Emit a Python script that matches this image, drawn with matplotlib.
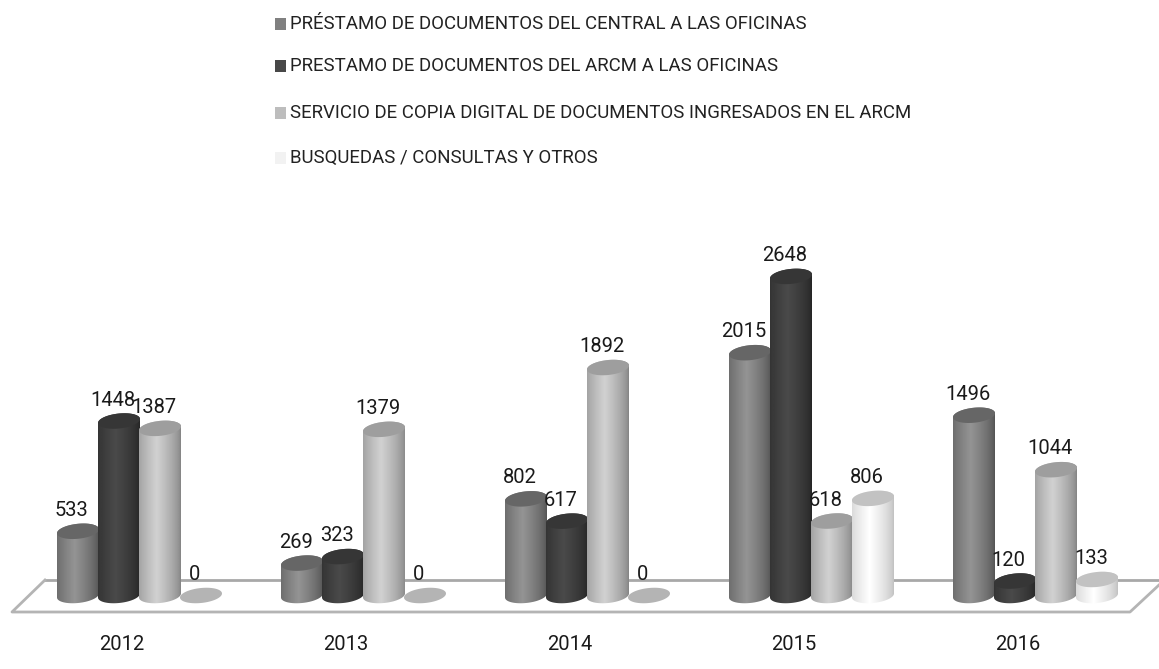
import numpy as np
import matplotlib
matplotlib.use('Agg')
import matplotlib.pyplot as plt
from matplotlib.patches import Polygon, Rectangle
from matplotlib.transforms import Affine2D

anios = ['2012', '2013', '2014', '2015', '2016']
prestamo_central = [533, 269, 802, 2015, 1496]
prestamo_arcm = [1448, 323, 617, 2648, 120]
copia_digital = [1387, 1379, 1892, 618, 1044]
busquedas = [0, 0, 0, 806, 133]

nombres = ['PRÉSTAMO DE DOCUMENTOS DEL CENTRAL A LAS OFICINAS',
           'PRESTAMO DE DOCUMENTOS DEL ARCM A LAS OFICINAS',
           'SERVICIO DE COPIA DIGITAL DE DOCUMENTOS INGRESADOS EN EL ARCM',
           'BUSQUEDAS / CONSULTAS Y OTROS']
series = [prestamo_central, prestamo_arcm, copia_digital, busquedas]

# grises: borde, centro, tapa, leyenda
tonos = [(0.33, 0.58, 0.40, '#808080'),
         (0.15, 0.29, 0.21, '#484848'),
         (0.52, 0.82, 0.62, '#bdbdbd'),
         (0.76, 1.00, 0.76, '#f2f2f2')]

W, H = 1159, 669
fig = plt.figure(figsize=(W / 100, H / 100), dpi=100)
ax = fig.add_axes([0, 0, 1, 1])
ax.axis('off')
plt.rcParams['font.family'] = ['Roboto', 'DejaVu Sans']

# transformacion en pixeles de la imagen, para suelo y leyenda
px = Affine2D().scale(1 / W, -1 / H).translate(0, 1) + fig.transFigure

paso_x = 224.0
x0 = 139.5
esc_y = 0.1205
y0 = 595.5
xlim = (-x0 / paso_x, (W - x0) / paso_x)
ylim = ((y0 - H) / esc_y, y0 / esc_y)

ancho = 41 / paso_x
a = 21 / paso_x
b = 7.5 / esc_y
s = 2.0 / esc_y
t = np.linspace(0, 2 * np.pi, 80)

# suelo
ax.add_patch(Polygon([(12, 612), (45, 580), (1159, 580), (1159, 585), (1130, 612)],
                     closed=True, facecolor='white', edgecolor='none', transform=px, zorder=1))
ax.plot([45, 1159], [580, 580], color='#a8a8a8', lw=2, transform=px, zorder=1.1)
ax.plot([45, 12, 1130, 1159], [580, 612, 612, 585], color='#b4b4b4', lw=2, transform=px, zorder=1.1)

grad_x = np.linspace(0, 1, 60)
for j, valores in enumerate(series):
    borde, centro, tapa, _ = tonos[j]
    perfil = borde + (centro - borde) * np.clip(1 - np.abs(grad_x - 0.42) / 0.58, 0, 1) ** 0.7
    for i, v in enumerate(valores):
        cx = i + (j - 1.5) * ancho
        z = 2 + j * 0.1 + i * 0.001
        ex = cx + a * np.cos(t)
        if v > 0:
            # cuerpo del cilindro
            tb = np.linspace(np.pi, 2 * np.pi, 40)
            tt = np.linspace(0, np.pi, 40)
            xs = np.r_[cx + a * np.cos(tb), cx + a * np.cos(tt)]
            ys = np.r_[b * np.sin(tb) + s * np.cos(tb), v + b * np.sin(tt) + s * np.cos(tt)]
            cuerpo = Polygon(np.c_[xs, ys], closed=True, facecolor='none', edgecolor='none',
                             transform=ax.transData)
            ax.add_patch(cuerpo)
            im = ax.imshow(perfil[None, :], cmap='gray', vmin=0, vmax=1, aspect='auto',
                           extent=(cx - a, cx + a, -2 * b, v + 2 * b), zorder=z,
                           interpolation='bilinear')
            im.set_clip_path(cuerpo)
            ax.add_patch(Polygon(np.c_[ex, v + b * np.sin(t) + s * np.cos(t)], closed=True,
                                 facecolor=str(tapa), edgecolor='none', zorder=z + 0.01))
        else:
            ax.add_patch(Polygon(np.c_[ex, b * np.sin(t) + s * np.cos(t)], closed=True,
                                 facecolor='#b4b4b4', edgecolor='none', zorder=z))
        ax.annotate(str(v), (cx, v), xytext=(-4.5, 21 * 0.72), textcoords='offset points',
                    ha='center', va='center', fontsize=14.5, color='#1a1a1a', zorder=5)

for i, anio in enumerate(anios):
    ax.text(i - 17.5 / paso_x, -(645 - y0) / esc_y, anio, ha='center', va='center',
            fontsize=14.5, color='#1a1a1a', zorder=5)

# leyenda
for k, nombre in enumerate(nombres):
    y = [24, 66, 113, 158][k]
    ax.add_patch(Rectangle((275, y - 6), 11, 12, facecolor=tonos[k][3], edgecolor='none', transform=px))
    ax.text(290, y, nombre, transform=px, ha='left', va='center', fontsize=13.45, color='#222222')

ax.set_xlim(xlim)
ax.set_ylim(ylim)
fig.savefig('out.png', dpi=100)
